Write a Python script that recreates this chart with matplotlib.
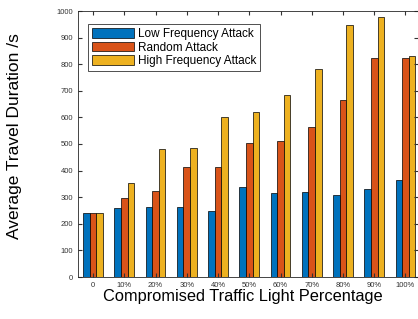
import numpy as np
import matplotlib
matplotlib.use('Agg')
import matplotlib.pyplot as plt

# Data.
categories = ['0', '10%', '20%', '30%', '40%', '50%', '60%', '70%', '80%', '90%', '100%']
low_freq = [240, 259, 263, 263, 247, 338, 315, 319, 309, 330, 365]
random_att = [240, 296, 325, 412, 412, 505, 512, 564, 665, 825, 825]
high_freq = [240, 352, 482, 486, 600, 622, 683, 782, 946, 976, 830]
series_names = ['Low Frequency Attack', 'Random Attack', 'High Frequency Attack']
colors = ['#0072BD', '#D95319', '#EDB120']

plt.rcParams['font.family'] = ['Liberation Sans', 'DejaVu Sans']

fig = plt.figure(figsize=(4.18, 3.19), dpi=100)
ax = fig.add_axes([78 / 418, 1 - 277 / 319, 340 / 418, 266 / 319])

x = np.arange(len(categories))
w = 0.21
for i, (vals, name, c) in enumerate(zip([low_freq, random_att, high_freq], series_names, colors)):
    ax.bar(x + (i - 1) * w, vals, width=w, color=c, edgecolor='black', linewidth=0.5, label=name)

ax.set_xlim(-0.48, 10.4)
ax.set_ylim(0, 1000)
ax.set_yticks(range(0, 1001, 100))
ax.set_xticks(x)
ax.set_xticklabels(categories)
ax.tick_params(direction='in', length=3, labelsize=5.5, colors='#333333', top=True, right=True)
for s in ax.spines.values():
    s.set_color('#262626')
    s.set_linewidth(0.6)

ax.set_xlabel('Compromised Traffic Light Percentage', fontsize=11.8)
ax.xaxis.set_label_coords(0.485, -0.045, transform=ax.transAxes)
ax.xaxis.label.set_va('top')
ax.set_ylabel('Average Travel Duration /s', fontsize=12.5)
ax.yaxis.set_label_coords(-56 / 340, 0.53)

leg = ax.legend(loc='upper left', fontsize=8.5, frameon=True, fancybox=False,
                edgecolor='black', handlelength=3.6, handleheight=0.9,
                borderpad=0.3, labelspacing=0.15, handletextpad=0.3,
                bbox_to_anchor=(0.03, 0.95), borderaxespad=0)
leg.get_frame().set_linewidth(0.6)

fig.savefig('out.png', dpi=100)
